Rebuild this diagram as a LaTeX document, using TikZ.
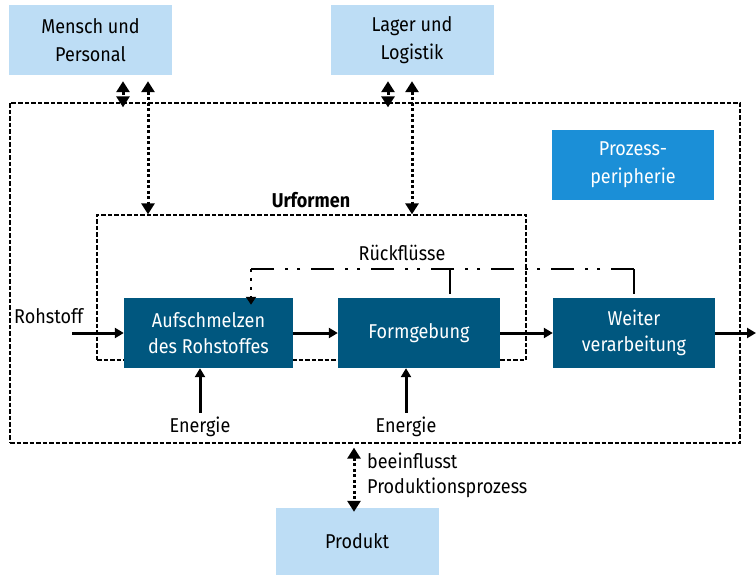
\documentclass[tikz,border=0pt]{standalone}
\usepackage{fontspec}
\setmainfont{Fira Sans}[FakeStretch=0.9]
\usetikzlibrary{arrows.meta}
\definecolor{lightbox}{HTML}{BDDDF5}
\definecolor{midbox}{HTML}{1B8FD7}
\definecolor{darkbox}{HTML}{00577F}
\tikzset{
  txt/.style={font=\fontsize{20}{28}\selectfont, inner sep=0pt, align=center},
  lbox/.style={txt, fill=lightbox, minimum width=163pt, minimum height=70pt},
  dbox/.style={txt, fill=darkbox, text=white, minimum width=168pt, minimum height=70pt, font=\fontsize{20}{26.5}\selectfont},
  framebox/.style={draw, line width=1.3pt, dash pattern=on 4.5pt off 2pt, inner sep=0pt},
  solidarrow/.style={line width=3pt, -{Triangle[length=9pt,width=10pt]}},
  dotarrow/.style={line width=3pt, dash pattern=on 3pt off 2.5pt,
     {Triangle[length=11pt,width=13pt]}-{Triangle[length=11pt,width=13pt]}},
  backflow/.style={line width=2.4pt, dash pattern=on 23pt off 11pt on 3pt off 9pt on 3pt off 11pt},
}
\begin{document}
\begin{tikzpicture}[x=1pt,y=-1pt]
\useasboundingbox (0,0) rectangle (756,575);
% top boxes
\node[lbox] (mensch) at (90.5,40) {Mensch und\\Personal};
\node[lbox] (lager) at (412,40) {Lager und\\Logistik};
% frames
\node[framebox, minimum width=730pt, minimum height=340pt] (outer) at (375,273) {};
\node[framebox, minimum width=429pt, minimum height=145pt] (inner) at (311.5,287.5) {};
\node[txt, font=\fontsize{20}{28}\selectfont\bfseries] (urformen) at (311,200) {Urformen};
% peripherie
\node[txt, fill=midbox, text=white, minimum width=162pt, minimum height=70pt] (peri) at (633,165) {Prozess-\\peripherie};
% process boxes
\node[dbox, minimum width=169pt] (schmelz) at (208.5,333) {Aufschmelzen\\des Rohstoffes};
\node[dbox, minimum width=162pt] (form) at (419,333) {Formgebung};
\node[dbox, minimum width=162pt] (weiter) at (634,333) {Weiter\\verarbeitung};
% Rohstoff
\node[txt, anchor=west] (rohstoff) at (14,316) {Rohstoff};
\coordinate (rohstart) at (72,333);
\draw[solidarrow] (rohstart) -- (schmelz.west);
\draw[solidarrow] (schmelz.east) -- (form.west);
\draw[solidarrow] (form.east) -- (weiter.west);
\coordinate (outend) at (756,333);
\draw[solidarrow] (weiter.east) -- (outend);
% Energie
\node[txt] (energie1) at (200,427) {Energie};
\node[txt] (energie2) at (406,427) {Energie};
\draw[solidarrow] (energie1.north -| 200,0) ++(0,-4) -- (schmelz.south -| 200,0);
\draw[solidarrow] (energie2.north -| 406,0) ++(0,-4) -- (form.south -| 406,0);
% Rueckfluesse
\node[txt] (rueck) at (402,253) {Rückflüsse};
\coordinate (rfR) at (634,269);
\coordinate (rfM) at (450,269);
\coordinate (rfL) at (251,269);
\draw[line width=2.4pt] (form.north -| rfM) ++(0,-4) -- (rfM);
\draw[line width=2.4pt] (weiter.north -| rfR) ++(0,-4) -- (rfR);
\draw[backflow] (rfR) -- (rfL);
\draw[line width=2.4pt, dash pattern=on 3pt off 6pt, -{Triangle[length=8pt,width=10pt]}] (rfL) -- ([yshift=-7pt]schmelz.north -| rfL);
% top connectors
\draw[dotarrow, shorten <=6pt, shorten >=-5pt] (mensch.south -| 123,0) -- (outer.north -| 123,0);
\draw[dotarrow, shorten <=6pt] (mensch.south -| 148,0) -- (inner.north -| 148,0);
\draw[dotarrow, shorten <=6pt, shorten >=-5pt] (lager.south -| 388,0) -- (outer.north -| 388,0);
\draw[dotarrow, shorten <=6pt] (lager.south -| 412,0) -- (inner.north -| 412,0);
% bottom
\node[lbox, minimum height=67pt] (produkt) at (357,541.5) {Produkt};
\draw[dotarrow, shorten <=4pt, shorten >=-4pt] (outer.south -| 354,0) -- (produkt.north -| 354,0);
\node[txt, anchor=base west] (bein) at (367,468) {beeinflusst};
\node[txt, anchor=base west] (prod) at (367,493) {Produktionsprozess};
\end{tikzpicture}
\end{document}
